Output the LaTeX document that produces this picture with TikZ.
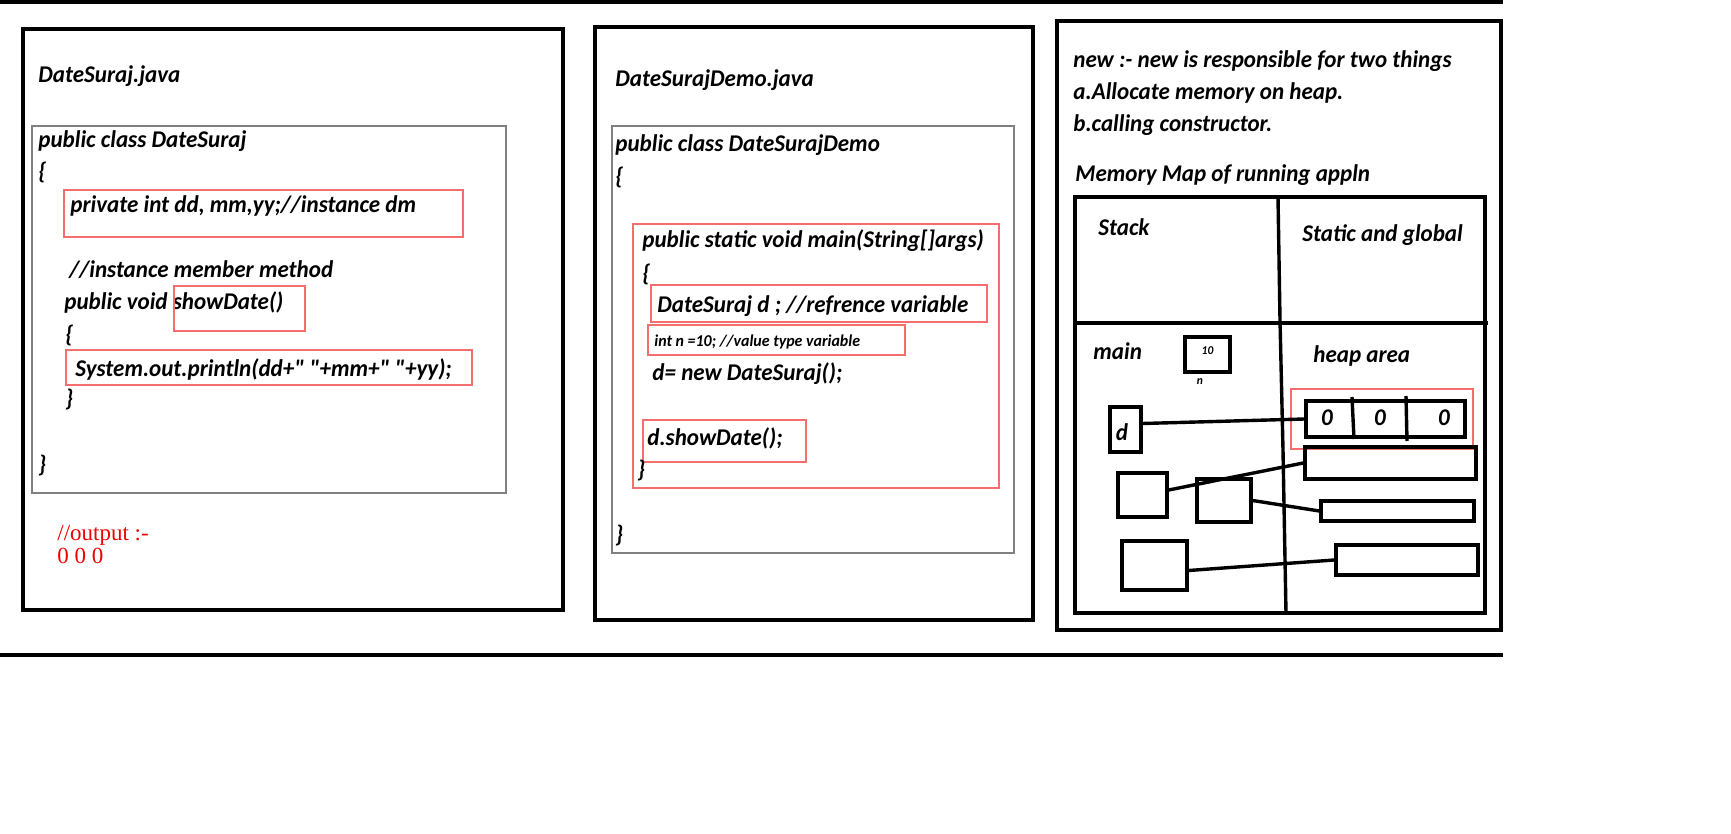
\documentclass[tikz,border=0pt]{standalone}
\usepackage{fontspec}
\setmainfont{Carlito}[FakeStretch=0.96,Ligatures=TeXOff]
\newfontfamily\outfont{Liberation Serif}
\usetikzlibrary{fit}
\definecolor{boxred}{RGB}{245,110,110}
\definecolor{outred}{RGB}{240,0,0}
\begin{document}
\begin{tikzpicture}[x=0.5pt,y=-0.5pt,
  txt/.style={anchor=base west,inner sep=0pt,font=\fontsize{12}{14}\selectfont\bfseries\itshape},
  txtm/.style={anchor=base west,inner sep=0pt,font=\fontsize{12}{14}\selectfont\bfseries\itshape},
  small/.style={anchor=base west,inner sep=0pt,font=\fontsize{8.3}{10}\selectfont\bfseries\itshape},
  tiny/.style={inner sep=0pt,font=\fontsize{6}{7}\selectfont\bfseries\itshape},
  outtxt/.style={anchor=base west,inner sep=0pt,text=outred,font=\fontsize{11.5}{13}\selectfont\outfont},
  frame/.style={draw,line width=2pt,inner sep=0pt},
  graybox/.style={draw=gray,line width=0.7pt,inner sep=0pt},
  redbox/.style={draw=boxred,line width=0.6pt,inner sep=0pt},
  mem/.style={draw,line width=1.7pt,inner sep=0pt},
  link/.style={line width=1.7pt},
  rule/.style={line width=2pt}]
\useasboundingbox (0,0) rectangle (1731,834);
% horizontal rules
\coordinate (tl) at (0,2); \coordinate (tr) at (1503,2);
\coordinate (bl) at (0,655); \coordinate (br) at (1503,655);
\draw[rule] (tl) -- (tr);
\draw[rule] (bl) -- (br);

% ---------- panel 1 ----------
\node[frame,fit={(23,29)(563,610)}] (p1) {};
\node[txt] (t1) at (38,83) {DateSuraj.java};
\node[graybox,fit={(32,126)(506,493)}] (g1) {};
\node[txt] (a1) at (38,148) {public class DateSuraj};
\node[txt] (a2) at (38,180) {\{};
\node[redbox,fit={(64,190)(463,237)}] (r1) {};
\node[txt] (a3) at (70,213) {private int dd, mm,yy;//instance dm};
\node[txt] (a4) at (69,278) {//instance member method};
\node[txt] (a5) at (64,310) {public void showDate()};
\node[redbox,fit={(174,286)(305,331)}] (r2) {};
\node[txt] (a6) at (65,343) {\{};
\node[redbox,fit={(66,350)(472,385)}] (r3) {};
\node[txt] (a7) at (75,377) {System.out.println(dd+" "+mm+" "+yy);};
\node[txt] (a8) at (65,407) {\}};
\node[txt] (a9) at (38,473) {\}};
\node[outtxt] (o1) at (57,540) {//output :-};
\node[outtxt] (o2) at (57,563) {0 0 0};

% ---------- panel 2 ----------
\node[frame,fit={(595,27)(1033,620)}] (p2) {};
\node[txt] (t2) at (615,87) {DateSurajDemo.java};
\node[graybox,fit={(612,126)(1014,553)}] (g2) {};
\node[txt] (b1) at (615,152) {public class DateSurajDemo};
\node[txt] (b2) at (615,185) {\{};
\node[redbox,fit={(633,224)(999,488)}] (r4) {};
\node[txt] (b3) at (642,248) {public static void main(String[]args)};
\node[txt] (b4) at (642,282) {\{};
\node[redbox,fit={(651,285)(987,322)}] (r5) {};
\node[txt] (b5) at (657,313) {DateSuraj d ; //refrence variable};
\node[redbox,fit={(648,325)(905,355)}] (r6) {};
\node[small] (b6) at (654,347) {int n =10; //value type variable};
\node[txt] (b7) at (652,380) {d= new DateSuraj();};
\node[redbox,fit={(643,420)(806,462)}] (r7) {};
\node[txt] (b8) at (647,445) {d.showDate();};
\node[txt] (b9) at (637,477) {\}};
\node[txt] (b10) at (615,542) {\}};

% ---------- panel 3 ----------
\node[frame,fit={(1057,21)(1501,630)}] (p3) {};
\node[txtm] (c1) at (1073,68) {new :- new is responsible for two things};
\node[txtm] (c2) at (1073,100) {a.Allocate memory on heap.};
\node[txtm] (c3) at (1073,132) {b.calling constructor.};
\node[txtm] (c4) at (1075,182) {Memory Map of running appln};
\node[mem,fit={(1075,197)(1485,613)}] (tab) {};
\coordinate (vt) at (1278,197); \coordinate (vb) at (1286,613);
\draw[link] (vt) -- (1280,320) -- (1283,450) -- (vb);
\coordinate (hl) at (1075,323); \coordinate (hr) at (1488,323);
\draw[link] (hl) -- (hr);
\node[txtm] (c5) at (1098,236) {Stack};
\node[txtm] (c6) at (1302,242) {Static and global};
\node[txtm] (c7) at (1093,360) {main};
\node[txtm] (c8) at (1313,363) {heap area};
\node[mem,fit={(1185,337)(1230,372)},font=\fontsize{6}{7}\selectfont\bfseries\itshape] (n10) {10};
\node[tiny] (nl) at (1200,382) {n};
\node[redbox,fit={(1291,389)(1473,449)}] (r8) {};
\node[mem,fit={(1306,401)(1465,437)}] (obj) {};
\coordinate (d1t) at (1352,397); \coordinate (d1b) at (1354,439);
\coordinate (d2t) at (1406,396); \coordinate (d2b) at (1407,441);
\draw[link] (d1t) -- (d1b);
\draw[link] (d2t) -- (d2b);
\node[txtm,anchor=center] (z1) at (1327,418) {0};
\node[txtm,anchor=center] (z2) at (1380,418) {0};
\node[txtm,anchor=center] (z3) at (1444,418) {0};
\node[mem,fit={(1110,407)(1141,452)}] (d) {};
\node[txtm,anchor=center] (dl) at (1122,432) {d};
\node[mem,fit={(1118,473)(1167,517)}] (sa) {};
\node[mem,fit={(1197,479)(1251,522)}] (sb) {};
\node[mem,fit={(1122,541)(1187,590)}] (sc) {};
\node[mem,fit={(1305,447)(1476,479)}] (h2) {};
\node[mem,fit={(1321,501)(1474,521)}] (h3) {};
\node[mem,fit={(1336,545)(1478,575)}] (h4) {};
\draw[link] ([yshift=6*0.5pt]d.east) -- (obj.west);
\draw[link] ([yshift=5*0.5pt]sa.east) -- (h2.west);
\draw[link] (sb.east) -- (h3.west);
\draw[link] ([yshift=-5*0.5pt]sc.east) -- (h4.west);
\end{tikzpicture}
\end{document}
